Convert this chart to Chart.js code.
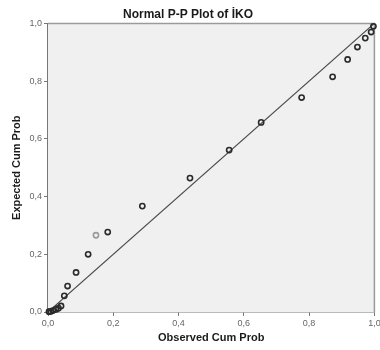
<!DOCTYPE html>
<html>
<head>
<meta charset="utf-8">
<script src="https://cdn.jsdelivr.net/npm/chart.js@4"></script>
<style>
  html, body { margin: 0; padding: 0; background: #fff; }
  #wrap { width: 380px; height: 350px; }
</style>
</head>
<body>
<div id="wrap"><canvas id="ppChart" width="380" height="350"></canvas></div>
<script>
// Observed vs expected cumulative probabilities
const observed = [0.003, 0.008, 0.015, 0.024, 0.032, 0.040, 0.050, 0.060, 0.086, 0.123, 0.147, 0.183, 0.289,
  0.435, 0.555, 0.653, 0.777, 0.872, 0.918, 0.948, 0.972, 0.990, 0.997];
const expected = [0.001, 0.002, 0.005, 0.009, 0.013, 0.021, 0.056, 0.090, 0.137, 0.200, 0.266, 0.277, 0.367,
  0.464, 0.561, 0.657, 0.743, 0.815, 0.875, 0.918, 0.949, 0.970, 0.990];
const lightPoint = 10; // the one point drawn in lighter grey
const refLine = [0, 1];
const tickValues = [0, 0.2, 0.4, 0.6, 0.8, 1.0];

const font = "'Liberation Sans', Arial, sans-serif";

// plot background + frame
const plotFrame = {
  id: "plotFrame",
  beforeDatasetsDraw(chart) {
    const a = chart.chartArea;
    const c = chart.ctx;
    c.save();
    c.fillStyle = "#f0f0f0";
    c.fillRect(a.left, a.top, a.right - a.left, a.bottom - a.top);
    c.strokeStyle = "#9a9a9a";
    c.lineWidth = 1.5;
    c.beginPath();
    c.moveTo(a.left, a.top);
    c.lineTo(a.right, a.top);
    c.lineTo(a.right, a.bottom);
    c.stroke();
    c.restore();
  },
};

const ctx = document.getElementById("ppChart").getContext("2d");
new Chart(ctx, {
  type: "scatter",
  data: {
    datasets: [
      {
        label: "Expected",
        data: observed.map((x, i) => ({ x: x, y: expected[i] })),
        pointRadius: 2.6,
        pointBorderWidth: 1.6,
        pointBackgroundColor: "rgba(0,0,0,0)",
        pointBorderColor: observed.map((_, i) => (i === lightPoint ? "#9a9a9a" : "#2a2a2a")),
        clip: false,
        order: 1,
      },
      {
        type: "line",
        label: "Fit",
        data: refLine.map((v) => ({ x: v, y: v })),
        borderColor: "#4a4a4a",
        borderWidth: 1.2,
        pointRadius: 0,
        order: 2,
      },
    ],
  },
  options: {
    responsive: false,
    animation: false,
    layout: { padding: { left: 0, right: 4, top: 0, bottom: 0 } },
    plugins: {
      legend: { display: false },
      tooltip: { enabled: false },
      title: {
        display: true,
        text: "Normal P-P Plot of İKO",
        color: "#1a1a1a",
        font: { family: font, size: 12, weight: "bold" },
        padding: { top: 7, bottom: 2 },
      },
    },
    scales: {
      x: {
        type: "linear",
        min: 0,
        max: 1,
        afterBuildTicks: (s) => { s.ticks = tickValues.map((v) => ({ value: v })); },
        ticks: {
          color: "#666",
          font: { family: font, size: 9 },
          padding: 2,
          maxRotation: 0,
          callback: (v) => v.toFixed(1).replace(".", ","),
        },
        grid: { drawOnChartArea: false, drawTicks: true, tickLength: 4, color: "#777" },
        border: { display: true, color: "#777", width: 1.5 },
        title: {
          display: true,
          text: "Observed Cum Prob",
          color: "#1a1a1a",
          font: { family: font, size: 11, weight: "bold" },
          padding: { top: 1, bottom: 5 },
        },
        afterFit: (s) => { s.height = 38; s.paddingRight = 0; s.paddingLeft = 0; },
      },
      y: {
        type: "linear",
        min: 0,
        max: 1,
        afterBuildTicks: (s) => { s.ticks = tickValues.map((v) => ({ value: v })); },
        ticks: {
          color: "#666",
          font: { family: font, size: 9 },
          padding: 2,
          callback: (v) => v.toFixed(1).replace(".", ","),
        },
        grid: { drawOnChartArea: false, drawTicks: true, tickLength: 4, color: "#777" },
        border: { display: true, color: "#777", width: 1.5 },
        title: {
          display: true,
          text: "Expected Cum Prob",
          color: "#1a1a1a",
          font: { family: font, size: 11, weight: "bold" },
          padding: { top: 10, bottom: 0 },
        },
        afterFit: (s) => { s.width = 48; s.paddingTop = 0; s.paddingBottom = 0; },
      },
    },
  },
  plugins: [plotFrame],
});
</script>
</body>
</html>
